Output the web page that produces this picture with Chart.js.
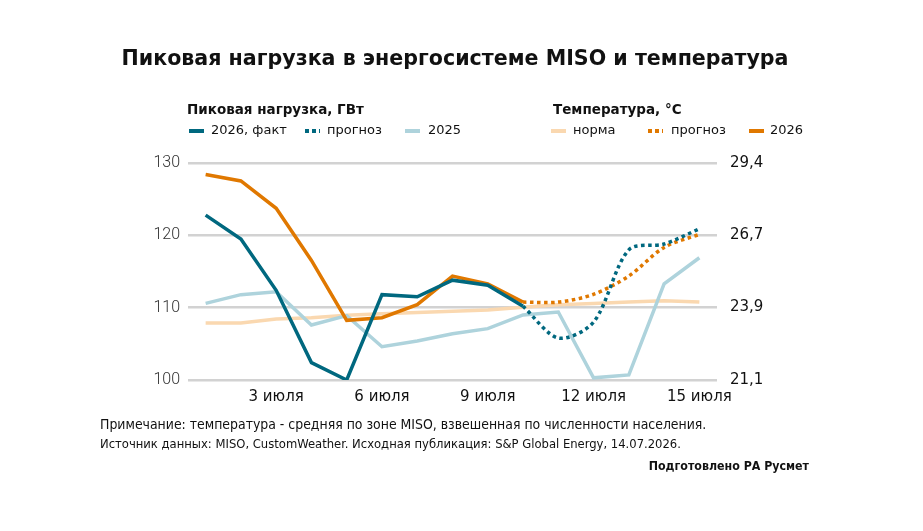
<html>
<head>
<meta charset="utf-8">
<script src="https://cdn.jsdelivr.net/npm/chart.js"></script>
<style>
  body { margin: 0; background: #fff; font-family: "DejaVu Sans", sans-serif; color: #111; }
  #wrap { position: relative; width: 923px; height: 531px; overflow: hidden; }
  #wrap canvas { position: absolute; left: 0; top: 0; }
  .t { position: absolute; white-space: nowrap; }
  .title { left: 0; width: 910px; top: 46px; text-align: center; font-size: 20.6px; font-weight: bold; }
  .lh { font-size: 13.5px; font-weight: bold; top: 101px; }
  .li { font-size: 13px; top: 122px; }
  .sw { position: absolute; width: 15px; height: 0; top: 129px; }
  .dot { position: absolute; width: 15px; height: 4px; top: 129px;
         background: repeating-linear-gradient(90deg, var(--c) 0 4px, transparent 4px 7px); }
  .note { font-family: "DejaVu Sans Condensed", "DejaVu Sans", sans-serif; left: 100px; }
</style>
</head>
<body>
<div id="wrap">
  <canvas id="myChart" width="923" height="531"></canvas>
  <div class="t title">Пиковая нагрузка в энергосистеме MISO и температура</div>

  <div class="t lh" style="left:187px">Пиковая нагрузка, ГВт</div>
  <div class="sw" style="left:189px;border-top:4px solid #00687f"></div>
  <div class="t li" style="left:211px">2026, факт</div>
  <div class="dot" style="left:305px;--c:#00687f"></div>
  <div class="t li" style="left:327px">прогноз</div>
  <div class="sw" style="left:405px;border-top:4px solid #aed3dc"></div>
  <div class="t li" style="left:428px">2025</div>

  <div class="t lh" style="left:553px">Температура, °C</div>
  <div class="sw" style="left:551px;border-top:4px solid #fad8b0"></div>
  <div class="t li" style="left:573px">норма</div>
  <div class="dot" style="left:648px;--c:#e07800"></div>
  <div class="t li" style="left:671px">прогноз</div>
  <div class="sw" style="left:749px;border-top:4px solid #e07800"></div>
  <div class="t li" style="left:770px">2026</div>

  <div class="t note" style="top:416px;font-size:13.9px">Примечание: температура - средняя по зоне MISO, взвешенная по численности населения.</div>
  <div class="t note" style="top:436px;font-size:12.9px">Источник данных: MISO, CustomWeather. Исходная публикация: S&amp;P Global Energy, 14.07.2026.</div>
  <div class="t" style="right:114px;top:459px;font-size:12.3px;font-weight:bold;font-family:'DejaVu Sans Condensed','DejaVu Sans',sans-serif">Подготовлено РА Русмет</div>
</div>

<script>
  // дни июля
  const days = [1, 2, 3, 4, 5, 6, 7, 8, 9, 10, 11, 12, 13, 14, 15];
  const shownDays = [3, 6, 9, 12, 15];

  // нагрузка, ГВт
  const load2026 = [122.8, 119.5, 112.4, 102.4, 100.0, 111.8, 111.5, 113.8, 113.1, 110.2, null, null, null, null, null];
  const loadForecast = [null, null, null, null, null, null, null, null, null, 110.2, 105.8, 108.0, 118.0, 118.8, 120.9];
  const load2025 = [110.6, 111.8, 112.2, 107.6, 108.9, 104.6, 105.4, 106.4, 107.1, 109.0, 109.4, 100.3, 100.7, 113.3, 116.9];

  // температура, °C
  const tempNorm = [23.3, 23.3, 23.45, 23.5, 23.6, 23.65, 23.7, 23.75, 23.8, 23.9, 24.0, 24.05, 24.1, 24.15, 24.1];
  const temp2026 = [29.0, 28.75, 27.7, 25.7, 23.4, 23.5, 24.0, 25.1, 24.8, 24.1, null, null, null, null, null];
  const tempForecast = [null, null, null, null, null, null, null, null, null, 24.1, 24.1, 24.4, 25.1, 26.2, 26.7];

  const leftTicks = [100, 110, 120, 130];
  const rightTicks = [21.11, 23.89, 26.67, 29.44];
  const rightLabels = ['21,1', '23,9', '26,7', '29,4'];

  const teal = '#00687f', orange = '#e07800', lightBlue = '#aed3dc', peach = '#fad8b0';

  const line = (data, color, axis, extra) => Object.assign({
    data, borderColor: color, backgroundColor: color, yAxisID: axis,
    borderWidth: 3.5, pointRadius: 0, fill: false, tension: 0, spanGaps: false
  }, extra || {});

  const data = {
    labels: days,
    datasets: [
      line(tempNorm, peach, 'yR', { order: 6 }),
      line(load2025, lightBlue, 'y', { order: 5 }),
      line(tempForecast, orange, 'yR', { borderDash: [3.5, 3.5], tension: 0.3, order: 4 }),
      line(loadForecast, teal, 'y', { borderDash: [3.5, 3.5], tension: 0.3, order: 3 }),
      line(temp2026, orange, 'yR', { order: 2 }),
      line(load2026, teal, 'y', { order: 1 }),
    ]
  };

  const options = {
    animation: false,
    responsive: false,
    layout: { padding: { top: 163, bottom: 121, left: 0, right: 0 } },
    plugins: { legend: { display: false }, tooltip: { enabled: false } },
    scales: {
      x: {
        offset: true,
        grid: { display: false },
        border: { display: false },
        afterFit: s => { s.height = 30; },
        ticks: {
          autoSkip: false, maxRotation: 0, padding: 0,
          color: '#111', font: { family: 'DejaVu Sans', size: 15 },
          callback: (v, i) => shownDays.includes(days[i]) ? days[i] + ' июля' : ''
        }
      },
      y: {
        position: 'left', min: 100, max: 130,
        afterFit: s => { s.width = 188; },
        afterBuildTicks: s => { s.ticks = leftTicks.map(v => ({ value: v })); },
        grid: { color: '#d2d2d2', lineWidth: 2.5, drawTicks: false },
        border: { display: false },
        ticks: { padding: 8, color: '#333', font: { family: 'Roboto', size: 16, weight: 300 } }
      },
      yR: {
        position: 'right', min: 21.11, max: 29.44,
        afterFit: s => { s.width = 923 - 717; },
        afterBuildTicks: s => { s.ticks = rightTicks.map(v => ({ value: v })); },
        grid: { display: false, drawTicks: false },
        border: { display: false },
        ticks: {
          padding: 13, color: '#111', font: { family: 'DejaVu Sans', size: 15 },
          callback: (v, i) => rightLabels[i]
        }
      }
    }
  };

  new Chart(document.getElementById('myChart'), { type: 'line', data, options });
</script>
</body>
</html>
